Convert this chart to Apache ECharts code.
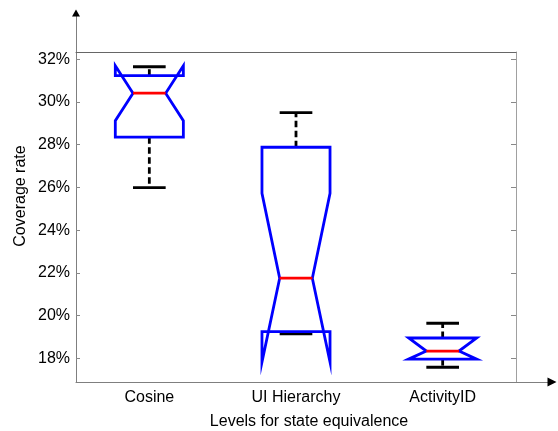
<!DOCTYPE html>
<html>
<head>
<meta charset="utf-8">
<script src="https://cdn.jsdelivr.net/npm/echarts@6/dist/echarts.min.js"></script>
<style>html,body{margin:0;padding:0;background:#fff}#c{width:558px;height:431px}</style>
</head>
<body>
<div id="c"></div>
<script>
const categories = ['Cosine', 'UI Hierarchy', 'ActivityID'];
const whiskerLow  = [25.99, 19.15, 17.58];
const q1          = [28.35, 19.25, 17.96];
const median      = [30.41, 21.75, 18.34];
const q3          = [31.23, 27.88, 18.95];
const whiskerHigh = [31.65, 29.50, 19.64];
const notchLow    = [29.12, 17.82, 17.96];
const notchHigh   = [31.70, 25.72, 18.95];
const yTicks = [18, 20, 22, 24, 26, 28, 30, 32];
const yMin = 16.89, yMax = 32.34;
const xName = 'Levels for state equivalence';
const yName = 'Coverage rate';

const FONT = '"Liberation Sans", Arial, sans-serif';
const rows = categories.map((c, i) => [i, whiskerLow[i], q1[i], median[i], q3[i], whiskerHigh[i], notchLow[i], notchHigh[i]]);

function renderItem(params, api) {
  const i = api.value(0);
  const wl = api.value(1), a = api.value(2), m = api.value(3), b = api.value(4), wh = api.value(5), nl = api.value(6), nh = api.value(7);
  const x = api.coord([i, m])[0];
  const y = v => api.coord([i, v])[1];
  const band = api.size([1, 0])[0];
  const hw = band * 0.232;
  const nw = hw * 0.48;
  const LW = 2.8;
  const blk = {stroke: '#000', lineWidth: LW, fill: null};
  const dash = {stroke: '#000', lineWidth: LW, lineDash: [6.5, 3.5], fill: null};
  const pts = [
    [x - hw, y(a)], [x - hw, y(nl)], [x - nw, y(m)], [x - hw, y(nh)], [x - hw, y(b)],
    [x + hw, y(b)], [x + hw, y(nh)], [x + nw, y(m)], [x + hw, y(nl)], [x + hw, y(a)]
  ];
  return {
    type: 'group',
    children: [
      {type: 'line', shape: {x1: x, y1: y(b), x2: x, y2: y(wh)}, style: dash},
      {type: 'line', shape: {x1: x, y1: y(a), x2: x, y2: y(wl)}, style: dash},
      {type: 'line', shape: {x1: x - nw, y1: y(wh), x2: x + nw, y2: y(wh)}, style: blk},
      {type: 'line', shape: {x1: x - nw, y1: y(wl), x2: x + nw, y2: y(wl)}, style: blk},
      {type: 'polygon', shape: {points: pts}, style: {stroke: '#0000ff', lineWidth: LW, fill: null, lineJoin: 'miter'}},
      {type: 'line', shape: {x1: x - nw, y1: y(m), x2: x + nw, y2: y(m)}, style: {stroke: '#ff0000', lineWidth: LW}}
    ]
  };
}

const hidden = {axisLine: {show: false}, axisTick: {show: false}, axisLabel: {show: false}, splitLine: {show: false}};

const chart = echarts.init(document.getElementById('c'), null, {renderer: 'canvas'});
chart.setOption({
  animation: false,
  backgroundColor: '#fff',
  grid: [
    {left: 76, right: 42, top: 52, bottom: 49},
    {left: 76, right: 5, top: 13, bottom: 49},
    {left: 76, top: 13, width: 1, height: 1},
    {left: 551, top: 381, width: 1, height: 1}
  ],
  xAxis: [
    {type: 'category', gridIndex: 0, data: categories, boundaryGap: true, position: 'bottom',
     axisLine: {show: false}, axisTick: {show: false}, splitLine: {show: false},
     axisLabel: {color: '#000', fontSize: 16, fontFamily: FONT, margin: 8}},
    {type: 'category', gridIndex: 0, data: categories, position: 'top',
     axisLine: {show: true, lineStyle: {color: '#666', width: 1}}, axisTick: {show: false}, axisLabel: {show: false}, splitLine: {show: false}},
    Object.assign({type: 'value', gridIndex: 1, min: 0, max: 1, position: 'bottom'}, hidden,
     {axisLine: {show: true, lineStyle: {color: '#7f7f7f', width: 1}}}),
    Object.assign({type: 'value', gridIndex: 2, min: 0, max: 1}, hidden),
    Object.assign({type: 'value', gridIndex: 3, min: 0, max: 1, position: 'bottom'}, hidden,
     {axisLine: {show: true, symbol: ['none', 'triangle'], symbolSize: [9, 9], lineStyle: {color: '#000', width: 1}}})
  ],
  yAxis: [
    {type: 'value', gridIndex: 0, min: yMin, max: yMax, position: 'left',
     axisLine: {show: false},
     axisTick: {show: true, inside: true, length: 4, customValues: yTicks, lineStyle: {color: '#888'}},
     axisLabel: {show: true, customValues: yTicks, formatter: v => v + '%', color: '#000', fontSize: 16, fontFamily: FONT, margin: 6},
     splitLine: {show: false}},
    {type: 'value', gridIndex: 0, min: yMin, max: yMax, position: 'right',
     axisLine: {show: true, lineStyle: {color: '#a0a0a0', width: 1}},
     axisTick: {show: true, inside: true, length: 5, customValues: yTicks, lineStyle: {color: '#888'}},
     axisLabel: {show: false}, splitLine: {show: false}},
    Object.assign({type: 'value', gridIndex: 1, min: 0, max: 1, position: 'left'}, hidden,
     {axisLine: {show: true, lineStyle: {color: '#7f7f7f', width: 1}}}),
    Object.assign({type: 'value', gridIndex: 2, min: 0, max: 1, position: 'left'}, hidden,
     {axisLine: {show: true, symbol: ['none', 'triangle'], symbolSize: [8, 7], lineStyle: {color: '#000', width: 1}}}),
    Object.assign({type: 'value', gridIndex: 3, min: 0, max: 1}, hidden)
  ],
  graphic: [
    {type: 'text', x: 309, y: 422, style: {text: xName, fill: '#000', font: '16px ' + FONT, textAlign: 'center', textVerticalAlign: 'middle'}},
    {type: 'text', x: 21, y: 196, rotation: Math.PI / 2, style: {text: yName, fill: '#000', font: '16px ' + FONT, textAlign: 'center', textVerticalAlign: 'middle'}}
  ],
  series: [{
    type: 'custom', xAxisIndex: 0, yAxisIndex: 0, renderItem: renderItem,
    encode: {x: 0, y: [1, 2, 3, 4, 5, 6, 7]}, data: rows, clip: false
  }]
});
</script>
</body>
</html>
